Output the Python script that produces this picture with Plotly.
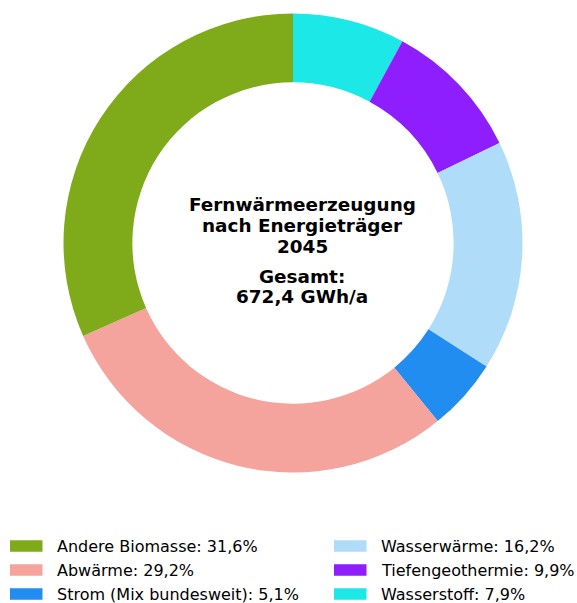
import plotly.graph_objects as go

# Energy sources for district heating in 2045 (share of total, %)
labels = [
    "Andere Biomasse",
    "Abwärme",
    "Strom (Mix bundesweit)",
    "Wasserwärme",
    "Tiefengeothermie",
    "Wasserstoff",
]
shares = [31.6, 29.2, 5.1, 16.2, 9.9, 7.9]
colors = ["#7FAB1B", "#F5A39D", "#228DF0", "#AFDCF9", "#8E1EFE", "#1DE8E8"]

title_lines = ["Fernwärmeerzeugung", "nach Energieträger", "2045"]
total_lines = ["Gesamt:", "672,4 GWh/a"]

W, H = 577, 603
FONT = "DejaVu Sans"


def px_x(x):
    return x / W


def px_y(y):
    return 1 - y / H


# Ring runs counter-clockwise from 12 o'clock in legend order; plotly draws
# clockwise from the top, so the slices are fed in reverse.
fig = go.Figure(
    go.Pie(
        labels=labels[::-1],
        values=shares[::-1],
        hole=0.7,
        sort=False,
        direction="clockwise",
        rotation=0,
        textinfo="none",
        marker=dict(colors=colors[::-1], line=dict(width=0)),
        showlegend=False,
        domain=dict(x=[px_x(9), 1.0], y=[px_y(472.5), px_y(13.5)]),
    )
)

annotations = []
shapes = []

# Centre caption
for text, yc in zip(title_lines, [204.5, 225.5, 246.5]):
    annotations.append(dict(
        text=f"<b>{text}</b>", x=px_x(302), y=px_y(yc), xref="paper", yref="paper",
        xanchor="center", yanchor="middle", showarrow=False,
        font=dict(family=FONT, size=18.4, color="black"),
    ))
for text, yc in zip(total_lines, [276, 296.5]):
    annotations.append(dict(
        text=f"<b>{text}</b>", x=px_x(302), y=px_y(yc), xref="paper", yref="paper",
        xanchor="center", yanchor="middle", showarrow=False,
        font=dict(family=FONT, size=18.4, color="black"),
    ))

# Two-column legend below the ring
row_y = [546, 570, 594]
col_x = [10, 334]
for i, (lab, val, col) in enumerate(zip(labels, shares, colors)):
    c, r = divmod(i, 3)
    x0 = col_x[c]
    yc = row_y[r]
    shapes.append(dict(
        type="rect", xref="paper", yref="paper",
        x0=px_x(x0), x1=px_x(x0 + 32.5), y0=px_y(yc + 5.8), y1=px_y(yc - 5.8),
        fillcolor=col, line=dict(width=0),
    ))
    annotations.append(dict(
        text=f"{lab}: {val:.1f}%".replace(".", ","),
        x=px_x(x0 + 45), y=px_y(yc), xref="paper", yref="paper",
        xanchor="left", yanchor="middle", showarrow=False,
        font=dict(family=FONT, size=16, color="black"),
    ))

fig.update_layout(
    width=W, height=H,
    margin=dict(l=0, r=0, t=0, b=0),
    paper_bgcolor="white", plot_bgcolor="white",
    annotations=annotations, shapes=shapes,
)

fig.write_html("out.html")
